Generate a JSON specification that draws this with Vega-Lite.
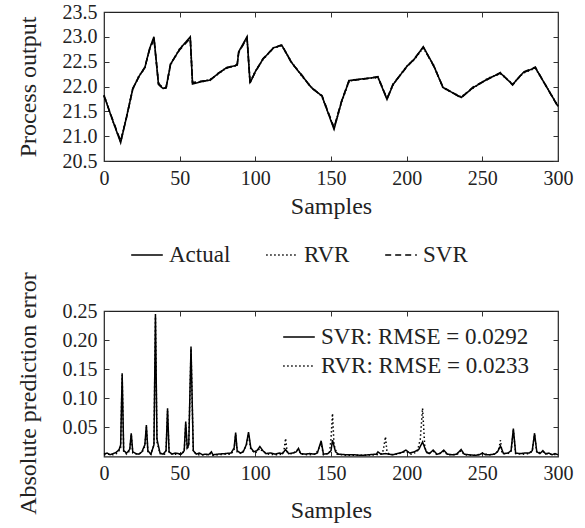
{
  "$schema": "https://vega.github.io/schema/vega-lite/v6.json",
  "padding": {"top": 1, "left": 15, "right": 5, "bottom": 0},
  "background": "white",
  "spacing": 3,
  "datasets": {
    "top": [
      {"s":0,"v":21.82,"series":"Actual"},{"s":5,"v":21.38,"series":"Actual"},{"s":11,"v":20.87,"series":"Actual"},{"s":15,"v":21.4,"series":"Actual"},{"s":19,"v":21.95,"series":"Actual"},{"s":23,"v":22.2,"series":"Actual"},{"s":27,"v":22.38,"series":"Actual"},{"s":30,"v":22.75,"series":"Actual"},{"s":33,"v":23.0,"series":"Actual"},{"s":36,"v":22.04,"series":"Actual"},{"s":39,"v":21.96,"series":"Actual"},{"s":41,"v":21.97,"series":"Actual"},{"s":44,"v":22.45,"series":"Actual"},{"s":50,"v":22.75,"series":"Actual"},{"s":57,"v":23.0,"series":"Actual"},{"s":58.5,"v":22.05,"series":"Actual"},{"s":65,"v":22.1,"series":"Actual"},{"s":70,"v":22.13,"series":"Actual"},{"s":75,"v":22.25,"series":"Actual"},{"s":81,"v":22.38,"series":"Actual"},{"s":88,"v":22.43,"series":"Actual"},{"s":89,"v":22.7,"series":"Actual"},{"s":94.5,"v":23.0,"series":"Actual"},{"s":96.5,"v":22.07,"series":"Actual"},{"s":100,"v":22.3,"series":"Actual"},{"s":105,"v":22.55,"series":"Actual"},{"s":112,"v":22.78,"series":"Actual"},{"s":117.5,"v":22.83,"series":"Actual"},{"s":124,"v":22.48,"series":"Actual"},{"s":131,"v":22.21,"series":"Actual"},{"s":137,"v":21.98,"series":"Actual"},{"s":144,"v":21.81,"series":"Actual"},{"s":152,"v":21.14,"series":"Actual"},{"s":157,"v":21.7,"series":"Actual"},{"s":162,"v":22.12,"series":"Actual"},{"s":170,"v":22.15,"series":"Actual"},{"s":181,"v":22.19,"series":"Actual"},{"s":187,"v":21.74,"series":"Actual"},{"s":191,"v":22.04,"series":"Actual"},{"s":200,"v":22.4,"series":"Actual"},{"s":205,"v":22.55,"series":"Actual"},{"s":211,"v":22.8,"series":"Actual"},{"s":218,"v":22.41,"series":"Actual"},{"s":224,"v":21.98,"series":"Actual"},{"s":236,"v":21.78,"series":"Actual"},{"s":244,"v":21.98,"series":"Actual"},{"s":254,"v":22.16,"series":"Actual"},{"s":262,"v":22.27,"series":"Actual"},{"s":270,"v":22.04,"series":"Actual"},{"s":277,"v":22.28,"series":"Actual"},{"s":285,"v":22.38,"series":"Actual"},{"s":300,"v":21.6,"series":"Actual"},
      {"s":0,"v":21.83,"series":"RVR"},{"s":5,"v":21.37,"series":"RVR"},{"s":11,"v":20.89,"series":"RVR"},{"s":15,"v":21.41,"series":"RVR"},{"s":19,"v":21.94,"series":"RVR"},{"s":23,"v":22.21,"series":"RVR"},{"s":27,"v":22.37,"series":"RVR"},{"s":30,"v":22.74,"series":"RVR"},{"s":33,"v":22.98,"series":"RVR"},{"s":36,"v":22.06,"series":"RVR"},{"s":39,"v":21.97,"series":"RVR"},{"s":41,"v":21.96,"series":"RVR"},{"s":44,"v":22.44,"series":"RVR"},{"s":50,"v":22.76,"series":"RVR"},{"s":57,"v":22.98,"series":"RVR"},{"s":58.5,"v":22.07,"series":"RVR"},{"s":65,"v":22.1,"series":"RVR"},{"s":70,"v":22.14,"series":"RVR"},{"s":75,"v":22.24,"series":"RVR"},{"s":81,"v":22.38,"series":"RVR"},{"s":88,"v":22.42,"series":"RVR"},{"s":89,"v":22.69,"series":"RVR"},{"s":94.5,"v":22.99,"series":"RVR"},{"s":96.5,"v":22.08,"series":"RVR"},{"s":100,"v":22.31,"series":"RVR"},{"s":105,"v":22.54,"series":"RVR"},{"s":112,"v":22.78,"series":"RVR"},{"s":117.5,"v":22.82,"series":"RVR"},{"s":124,"v":22.49,"series":"RVR"},{"s":131,"v":22.2,"series":"RVR"},{"s":137,"v":21.99,"series":"RVR"},{"s":144,"v":21.8,"series":"RVR"},{"s":152,"v":21.16,"series":"RVR"},{"s":157,"v":21.69,"series":"RVR"},{"s":162,"v":22.11,"series":"RVR"},{"s":170,"v":22.15,"series":"RVR"},{"s":181,"v":22.18,"series":"RVR"},{"s":187,"v":21.76,"series":"RVR"},{"s":191,"v":22.03,"series":"RVR"},{"s":200,"v":22.41,"series":"RVR"},{"s":205,"v":22.54,"series":"RVR"},{"s":211,"v":22.78,"series":"RVR"},{"s":218,"v":22.42,"series":"RVR"},{"s":224,"v":21.97,"series":"RVR"},{"s":236,"v":21.79,"series":"RVR"},{"s":244,"v":21.97,"series":"RVR"},{"s":254,"v":22.17,"series":"RVR"},{"s":262,"v":22.26,"series":"RVR"},{"s":270,"v":22.05,"series":"RVR"},{"s":277,"v":22.27,"series":"RVR"},{"s":285,"v":22.37,"series":"RVR"},{"s":300,"v":21.61,"series":"RVR"},
      {"s":0,"v":21.81,"series":"SVR"},{"s":5,"v":21.39,"series":"SVR"},{"s":11,"v":20.9,"series":"SVR"},{"s":15,"v":21.39,"series":"SVR"},{"s":19,"v":21.96,"series":"SVR"},{"s":23,"v":22.19,"series":"SVR"},{"s":27,"v":22.39,"series":"SVR"},{"s":30,"v":22.73,"series":"SVR"},{"s":33,"v":22.96,"series":"SVR"},{"s":36,"v":22.07,"series":"SVR"},{"s":39,"v":21.95,"series":"SVR"},{"s":41,"v":21.98,"series":"SVR"},{"s":44,"v":22.46,"series":"SVR"},{"s":50,"v":22.74,"series":"SVR"},{"s":57,"v":22.97,"series":"SVR"},{"s":58.5,"v":22.08,"series":"SVR"},{"s":65,"v":22.11,"series":"SVR"},{"s":70,"v":22.12,"series":"SVR"},{"s":75,"v":22.26,"series":"SVR"},{"s":81,"v":22.37,"series":"SVR"},{"s":88,"v":22.44,"series":"SVR"},{"s":89,"v":22.68,"series":"SVR"},{"s":94.5,"v":22.98,"series":"SVR"},{"s":96.5,"v":22.09,"series":"SVR"},{"s":100,"v":22.29,"series":"SVR"},{"s":105,"v":22.56,"series":"SVR"},{"s":112,"v":22.77,"series":"SVR"},{"s":117.5,"v":22.84,"series":"SVR"},{"s":124,"v":22.47,"series":"SVR"},{"s":131,"v":22.22,"series":"SVR"},{"s":137,"v":21.97,"series":"SVR"},{"s":144,"v":21.82,"series":"SVR"},{"s":152,"v":21.17,"series":"SVR"},{"s":157,"v":21.71,"series":"SVR"},{"s":162,"v":22.13,"series":"SVR"},{"s":170,"v":22.14,"series":"SVR"},{"s":181,"v":22.2,"series":"SVR"},{"s":187,"v":21.75,"series":"SVR"},{"s":191,"v":22.05,"series":"SVR"},{"s":200,"v":22.39,"series":"SVR"},{"s":205,"v":22.56,"series":"SVR"},{"s":211,"v":22.79,"series":"SVR"},{"s":218,"v":22.4,"series":"SVR"},{"s":224,"v":21.99,"series":"SVR"},{"s":236,"v":21.77,"series":"SVR"},{"s":244,"v":21.99,"series":"SVR"},{"s":254,"v":22.15,"series":"SVR"},{"s":262,"v":22.28,"series":"SVR"},{"s":270,"v":22.03,"series":"SVR"},{"s":277,"v":22.29,"series":"SVR"},{"s":285,"v":22.39,"series":"SVR"},{"s":300,"v":21.59,"series":"SVR"}
    ],
    "bottom": [
      {"s":0,"e":0.004,"model":"SVR"},{"s":2,"e":0.006,"model":"SVR"},{"s":4,"e":0.003,"model":"SVR"},{"s":6,"e":0.005,"model":"SVR"},{"s":8,"e":0.007,"model":"SVR"},{"s":10,"e":0.012,"model":"SVR"},{"s":11,"e":0.02,"model":"SVR"},{"s":12,"e":0.143,"model":"SVR"},{"s":13,"e":0.01,"model":"SVR"},{"s":15,"e":0.006,"model":"SVR"},{"s":17,"e":0.012,"model":"SVR"},{"s":18,"e":0.04,"model":"SVR"},{"s":19,"e":0.008,"model":"SVR"},{"s":21,"e":0.005,"model":"SVR"},{"s":23,"e":0.004,"model":"SVR"},{"s":25,"e":0.008,"model":"SVR"},{"s":27,"e":0.02,"model":"SVR"},{"s":28,"e":0.054,"model":"SVR"},{"s":29,"e":0.01,"model":"SVR"},{"s":31,"e":0.004,"model":"SVR"},{"s":33,"e":0.02,"model":"SVR"},{"s":34,"e":0.245,"model":"SVR"},{"s":35,"e":0.03,"model":"SVR"},{"s":37,"e":0.006,"model":"SVR"},{"s":39,"e":0.004,"model":"SVR"},{"s":41,"e":0.01,"model":"SVR"},{"s":42,"e":0.083,"model":"SVR"},{"s":43,"e":0.008,"model":"SVR"},{"s":45,"e":0.004,"model":"SVR"},{"s":47,"e":0.006,"model":"SVR"},{"s":49,"e":0.005,"model":"SVR"},{"s":51,"e":0.004,"model":"SVR"},{"s":53,"e":0.01,"model":"SVR"},{"s":54,"e":0.06,"model":"SVR"},{"s":55,"e":0.015,"model":"SVR"},{"s":56,"e":0.02,"model":"SVR"},{"s":57.5,"e":0.189,"model":"SVR"},{"s":59,"e":0.01,"model":"SVR"},{"s":61,"e":0.004,"model":"SVR"},{"s":63,"e":0.006,"model":"SVR"},{"s":65,"e":0.003,"model":"SVR"},{"s":67,"e":0.004,"model":"SVR"},{"s":69,"e":0.003,"model":"SVR"},{"s":71,"e":0.008,"model":"SVR"},{"s":72,"e":0.003,"model":"SVR"},{"s":75,"e":0.004,"model":"SVR"},{"s":80,"e":0.005,"model":"SVR"},{"s":84,"e":0.006,"model":"SVR"},{"s":86,"e":0.015,"model":"SVR"},{"s":87,"e":0.041,"model":"SVR"},{"s":88,"e":0.01,"model":"SVR"},{"s":90,"e":0.006,"model":"SVR"},{"s":92,"e":0.008,"model":"SVR"},{"s":94,"e":0.02,"model":"SVR"},{"s":95.5,"e":0.042,"model":"SVR"},{"s":97,"e":0.015,"model":"SVR"},{"s":99,"e":0.008,"model":"SVR"},{"s":101,"e":0.01,"model":"SVR"},{"s":103,"e":0.017,"model":"SVR"},{"s":105,"e":0.01,"model":"SVR"},{"s":107,"e":0.005,"model":"SVR"},{"s":110,"e":0.006,"model":"SVR"},{"s":113,"e":0.004,"model":"SVR"},{"s":116,"e":0.006,"model":"SVR"},{"s":118,"e":0.005,"model":"SVR"},{"s":120,"e":0.012,"model":"SVR"},{"s":122,"e":0.005,"model":"SVR"},{"s":125,"e":0.006,"model":"SVR"},{"s":127,"e":0.008,"model":"SVR"},{"s":128.5,"e":0.014,"model":"SVR"},{"s":130,"e":0.005,"model":"SVR"},{"s":133,"e":0.004,"model":"SVR"},{"s":136,"e":0.005,"model":"SVR"},{"s":139,"e":0.004,"model":"SVR"},{"s":141,"e":0.006,"model":"SVR"},{"s":143.5,"e":0.027,"model":"SVR"},{"s":145,"e":0.004,"model":"SVR"},{"s":148,"e":0.005,"model":"SVR"},{"s":150,"e":0.01,"model":"SVR"},{"s":151,"e":0.028,"model":"SVR"},{"s":153,"e":0.008,"model":"SVR"},{"s":155,"e":0.004,"model":"SVR"},{"s":160,"e":0.003,"model":"SVR"},{"s":165,"e":0.003,"model":"SVR"},{"s":170,"e":0.002,"model":"SVR"},{"s":175,"e":0.003,"model":"SVR"},{"s":180,"e":0.004,"model":"SVR"},{"s":181,"e":0.008,"model":"SVR"},{"s":183,"e":0.004,"model":"SVR"},{"s":186,"e":0.005,"model":"SVR"},{"s":188,"e":0.004,"model":"SVR"},{"s":191,"e":0.003,"model":"SVR"},{"s":194,"e":0.005,"model":"SVR"},{"s":197,"e":0.007,"model":"SVR"},{"s":199.5,"e":0.011,"model":"SVR"},{"s":202,"e":0.006,"model":"SVR"},{"s":205,"e":0.008,"model":"SVR"},{"s":208,"e":0.012,"model":"SVR"},{"s":210.5,"e":0.025,"model":"SVR"},{"s":213,"e":0.008,"model":"SVR"},{"s":215,"e":0.005,"model":"SVR"},{"s":217.5,"e":0.011,"model":"SVR"},{"s":220,"e":0.004,"model":"SVR"},{"s":222,"e":0.005,"model":"SVR"},{"s":224.5,"e":0.011,"model":"SVR"},{"s":227,"e":0.004,"model":"SVR"},{"s":230,"e":0.003,"model":"SVR"},{"s":233,"e":0.004,"model":"SVR"},{"s":236,"e":0.012,"model":"SVR"},{"s":238,"e":0.004,"model":"SVR"},{"s":241,"e":0.003,"model":"SVR"},{"s":245,"e":0.002,"model":"SVR"},{"s":248,"e":0.003,"model":"SVR"},{"s":250,"e":0.006,"model":"SVR"},{"s":252,"e":0.003,"model":"SVR"},{"s":255,"e":0.003,"model":"SVR"},{"s":258,"e":0.004,"model":"SVR"},{"s":260,"e":0.008,"model":"SVR"},{"s":262,"e":0.018,"model":"SVR"},{"s":264,"e":0.005,"model":"SVR"},{"s":267,"e":0.006,"model":"SVR"},{"s":269,"e":0.01,"model":"SVR"},{"s":270.5,"e":0.048,"model":"SVR"},{"s":272,"e":0.006,"model":"SVR"},{"s":275,"e":0.005,"model":"SVR"},{"s":278,"e":0.006,"model":"SVR"},{"s":281,"e":0.006,"model":"SVR"},{"s":283,"e":0.01,"model":"SVR"},{"s":284.5,"e":0.04,"model":"SVR"},{"s":286,"e":0.008,"model":"SVR"},{"s":288,"e":0.005,"model":"SVR"},{"s":290,"e":0.01,"model":"SVR"},{"s":292,"e":0.004,"model":"SVR"},{"s":294,"e":0.006,"model":"SVR"},{"s":296,"e":0.003,"model":"SVR"},{"s":298,"e":0.005,"model":"SVR"},{"s":300,"e":0.003,"model":"SVR"},
      {"s":0,"e":0.003,"model":"RVR"},{"s":3,"e":0.004,"model":"RVR"},{"s":6,"e":0.003,"model":"RVR"},{"s":9,"e":0.006,"model":"RVR"},{"s":11,"e":0.015,"model":"RVR"},{"s":12,"e":0.14,"model":"RVR"},{"s":13,"e":0.008,"model":"RVR"},{"s":15,"e":0.004,"model":"RVR"},{"s":17,"e":0.01,"model":"RVR"},{"s":18,"e":0.038,"model":"RVR"},{"s":19,"e":0.006,"model":"RVR"},{"s":22,"e":0.004,"model":"RVR"},{"s":25,"e":0.006,"model":"RVR"},{"s":27,"e":0.018,"model":"RVR"},{"s":28,"e":0.05,"model":"RVR"},{"s":29,"e":0.008,"model":"RVR"},{"s":31,"e":0.004,"model":"RVR"},{"s":33,"e":0.02,"model":"RVR"},{"s":34,"e":0.24,"model":"RVR"},{"s":35,"e":0.025,"model":"RVR"},{"s":37,"e":0.005,"model":"RVR"},{"s":40,"e":0.004,"model":"RVR"},{"s":41,"e":0.01,"model":"RVR"},{"s":42,"e":0.078,"model":"RVR"},{"s":43,"e":0.006,"model":"RVR"},{"s":46,"e":0.004,"model":"RVR"},{"s":50,"e":0.004,"model":"RVR"},{"s":53,"e":0.008,"model":"RVR"},{"s":54,"e":0.055,"model":"RVR"},{"s":55,"e":0.012,"model":"RVR"},{"s":56,"e":0.02,"model":"RVR"},{"s":57.5,"e":0.185,"model":"RVR"},{"s":59,"e":0.008,"model":"RVR"},{"s":62,"e":0.003,"model":"RVR"},{"s":66,"e":0.003,"model":"RVR"},{"s":70,"e":0.004,"model":"RVR"},{"s":71,"e":0.006,"model":"RVR"},{"s":72,"e":0.002,"model":"RVR"},{"s":76,"e":0.003,"model":"RVR"},{"s":80,"e":0.004,"model":"RVR"},{"s":84,"e":0.004,"model":"RVR"},{"s":86,"e":0.012,"model":"RVR"},{"s":87,"e":0.038,"model":"RVR"},{"s":88,"e":0.008,"model":"RVR"},{"s":91,"e":0.005,"model":"RVR"},{"s":94,"e":0.018,"model":"RVR"},{"s":95.5,"e":0.038,"model":"RVR"},{"s":97,"e":0.012,"model":"RVR"},{"s":100,"e":0.006,"model":"RVR"},{"s":103,"e":0.014,"model":"RVR"},{"s":105,"e":0.008,"model":"RVR"},{"s":109,"e":0.004,"model":"RVR"},{"s":114,"e":0.003,"model":"RVR"},{"s":118,"e":0.004,"model":"RVR"},{"s":119,"e":0.012,"model":"RVR"},{"s":120,"e":0.031,"model":"RVR"},{"s":121,"e":0.008,"model":"RVR"},{"s":124,"e":0.004,"model":"RVR"},{"s":128.5,"e":0.012,"model":"RVR"},{"s":130,"e":0.004,"model":"RVR"},{"s":135,"e":0.003,"model":"RVR"},{"s":140,"e":0.004,"model":"RVR"},{"s":143.5,"e":0.022,"model":"RVR"},{"s":145,"e":0.003,"model":"RVR"},{"s":149,"e":0.006,"model":"RVR"},{"s":150,"e":0.03,"model":"RVR"},{"s":151,"e":0.074,"model":"RVR"},{"s":152,"e":0.02,"model":"RVR"},{"s":154,"e":0.004,"model":"RVR"},{"s":160,"e":0.002,"model":"RVR"},{"s":170,"e":0.002,"model":"RVR"},{"s":180,"e":0.003,"model":"RVR"},{"s":184,"e":0.005,"model":"RVR"},{"s":185,"e":0.018,"model":"RVR"},{"s":186,"e":0.034,"model":"RVR"},{"s":187,"e":0.008,"model":"RVR"},{"s":189,"e":0.003,"model":"RVR"},{"s":194,"e":0.004,"model":"RVR"},{"s":199.5,"e":0.009,"model":"RVR"},{"s":203,"e":0.004,"model":"RVR"},{"s":207,"e":0.008,"model":"RVR"},{"s":209,"e":0.03,"model":"RVR"},{"s":210.5,"e":0.083,"model":"RVR"},{"s":212,"e":0.015,"model":"RVR"},{"s":214,"e":0.004,"model":"RVR"},{"s":217.5,"e":0.009,"model":"RVR"},{"s":220,"e":0.003,"model":"RVR"},{"s":224.5,"e":0.009,"model":"RVR"},{"s":227,"e":0.003,"model":"RVR"},{"s":233,"e":0.003,"model":"RVR"},{"s":236,"e":0.01,"model":"RVR"},{"s":238,"e":0.003,"model":"RVR"},{"s":245,"e":0.002,"model":"RVR"},{"s":250,"e":0.005,"model":"RVR"},{"s":255,"e":0.003,"model":"RVR"},{"s":259,"e":0.005,"model":"RVR"},{"s":261,"e":0.014,"model":"RVR"},{"s":262,"e":0.028,"model":"RVR"},{"s":263,"e":0.006,"model":"RVR"},{"s":266,"e":0.004,"model":"RVR"},{"s":269,"e":0.008,"model":"RVR"},{"s":270.5,"e":0.045,"model":"RVR"},{"s":272,"e":0.005,"model":"RVR"},{"s":277,"e":0.004,"model":"RVR"},{"s":281,"e":0.005,"model":"RVR"},{"s":283,"e":0.009,"model":"RVR"},{"s":284.5,"e":0.038,"model":"RVR"},{"s":286,"e":0.006,"model":"RVR"},{"s":290,"e":0.008,"model":"RVR"},{"s":294,"e":0.004,"model":"RVR"},{"s":300,"e":0.003,"model":"RVR"}
    ]
  },
  "vconcat": [
    {
      "width": 454,
      "height": 149,
      "data": {"name": "top"},
      "layer": [
        {
          "mark": {"type": "line", "color": "black", "strokeWidth": 1.6},
          "encoding": {
            "x": {"field": "s", "type": "quantitative", "scale": {"domain": [0, 300], "nice": false, "padding": 0},
                  "axis": {"orient": "bottom", "title": "Samples", "values": [0,50,100,150,200,250,300], "titlePadding": 6, "labelFlush": false}},
            "y": {"field": "v", "type": "quantitative", "scale": {"domain": [20.5, 23.5], "nice": false, "zero": false, "padding": 0},
                  "axis": {"orient": "left", "title": "Process output", "values": [20.5,21,21.5,22,22.5,23,23.5], "format": ".1f", "titlePadding": 22}},
            "strokeDash": {"field": "series", "type": "nominal",
                  "scale": {"domain": ["Actual", "RVR", "SVR"], "range": [[1, 0], [1.5, 2.5], [6, 4]]},
                  "legend": {"orient": "none", "direction": "horizontal", "legendX": 26, "legendY": 226, "title": null, "columnPadding": 32}}
          }
        },
        {
          "mark": {"type": "line", "strokeOpacity": 0},
          "encoding": {
            "x": {"field": "s", "type": "quantitative", "scale": {"domain": [0, 300], "nice": false, "padding": 0},
                  "axis": {"orient": "top", "labels": false, "title": null, "values": [0,50,100,150,200,250,300]}},
            "y": {"field": "v", "type": "quantitative", "scale": {"domain": [20.5, 23.5], "nice": false, "zero": false, "padding": 0},
                  "axis": {"orient": "right", "labels": false, "title": null, "values": [20.5,21,21.5,22,22.5,23,23.5]}},
            "detail": {"field": "series", "type": "nominal"}
          }
        }
      ],
      "resolve": {"axis": {"x": "independent", "y": "independent"}}
    },
    {
      "width": 454,
      "height": 145.5,
      "data": {"name": "bottom"},
      "layer": [
        {
          "mark": {"type": "line", "color": "black", "strokeWidth": 1.5},
          "encoding": {
            "x": {"field": "s", "type": "quantitative", "scale": {"domain": [0, 300], "nice": false, "padding": 0},
                  "axis": {"orient": "bottom", "title": "Samples", "values": [0,50,100,150,200,250,300], "titlePadding": 15, "labelFlush": false}},
            "y": {"field": "e", "type": "quantitative", "scale": {"domain": [0, 0.25], "nice": false, "padding": 0},
                  "axis": {"orient": "left", "title": "Absolute prediction error", "values": [0.05,0.1,0.15,0.2,0.25], "format": ".2f", "titlePadding": 22, "titleY": 82}},
            "strokeDash": {"field": "model", "type": "nominal",
                  "scale": {"domain": ["SVR", "RVR"], "range": [[1, 0], [1.5, 2.5]]},
                  "legend": {"orient": "none", "direction": "vertical", "legendX": 178, "legendY": 9, "title": null, "labelLimit": 0, "rowPadding": -3,
                             "labelExpr": "datum.label == 'SVR' ? 'SVR: RMSE = 0.0292' : 'RVR: RMSE = 0.0233'"}}
          }
        },
        {
          "mark": {"type": "line", "strokeOpacity": 0},
          "encoding": {
            "x": {"field": "s", "type": "quantitative", "scale": {"domain": [0, 300], "nice": false, "padding": 0},
                  "axis": {"orient": "top", "labels": false, "title": null, "values": [0,50,100,150,200,250,300]}},
            "y": {"field": "e", "type": "quantitative", "scale": {"domain": [0, 0.25], "nice": false, "padding": 0},
                  "axis": {"orient": "right", "labels": false, "title": null, "values": [0.05,0.1,0.15,0.2,0.25]}},
            "detail": {"field": "model", "type": "nominal"}
          }
        }
      ],
      "resolve": {"axis": {"x": "independent", "y": "independent"}}
    }
  ],
  "resolve": {"scale": {"strokeDash": "independent"}, "legend": {"strokeDash": "independent"}},
  "config": {
    "font": "Liberation Serif, Times New Roman, Times, serif",
    "view": {"stroke": "#222", "strokeWidth": 1.2},
    "axis": {
      "domain": false, "grid": false,
      "labelFont": "Liberation Serif, Times New Roman, Times, serif", "labelFontSize": 20, "labelColor": "#222",
      "titleFont": "Liberation Serif, Times New Roman, Times, serif", "titleFontSize": 24, "titleFontWeight": "normal", "titleColor": "#222",
      "tickColor": "#333", "tickSize": -5, "tickWidth": 1, "labelPadding": 12
    },
    "legend": {
      "labelFont": "Liberation Serif, Times New Roman, Times, serif", "labelFontSize": 23, "labelColor": "#222",
      "symbolType": "stroke", "symbolSize": 1000, "symbolStrokeWidth": 1.5, "symbolStrokeColor": "black",
      "labelOffset": 5, "rowPadding": 0
    }
  }
}
